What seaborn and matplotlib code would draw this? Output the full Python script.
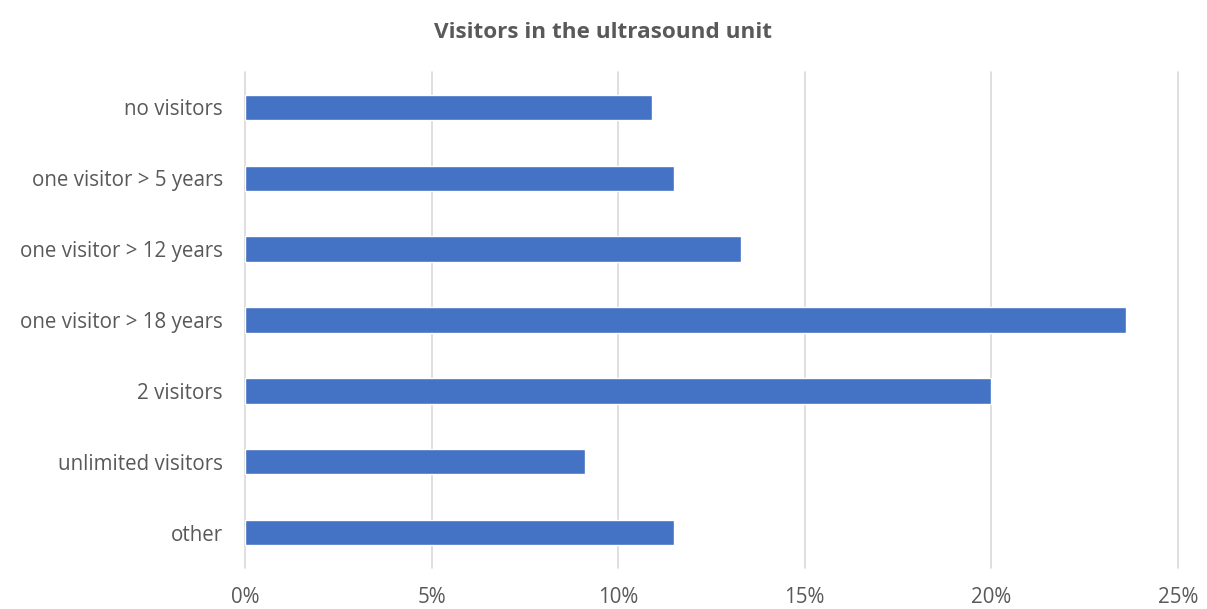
import matplotlib
matplotlib.use("Agg")
import matplotlib.pyplot as plt
import seaborn as sns
import pandas as pd
from matplotlib.ticker import PercentFormatter, MultipleLocator

categories = ["no visitors", "one visitor > 5 years", "one visitor > 12 years",
              "one visitor > 18 years", "2 visitors", "unlimited visitors", "other"]
values = [10.9, 11.5, 13.3, 23.6, 20.0, 9.1, 11.5]

df = pd.DataFrame({"category": categories, "value": values})

sns.set_theme(style="white")
plt.rcParams['font.family'] = ['Open Sans', 'DejaVu Sans']

fig = plt.figure(figsize=(12.07, 6.09), dpi=100)
ax = fig.add_axes([245/1207, 1 - 568/609, (1178 - 245)/1207, (568 - 72)/609])

sns.barplot(data=df, x="value", y="category", color="#4472C4", width=0.36,
            saturation=1, ax=ax, orient="h")

ax.set_xlim(0, 25)
ax.set_ylim(6.5, -0.5)
ax.xaxis.set_major_locator(MultipleLocator(5))
ax.xaxis.set_major_formatter(PercentFormatter(decimals=0))
ax.grid(axis="x", color="#D9D9D9", linewidth=1.2)
for gl in ax.get_xgridlines():
    gl.set_clip_on(False)
ax.set_axisbelow(True)
for s in ax.spines.values():
    s.set_visible(False)
ax.set_xlabel("")
ax.set_ylabel("")
ax.tick_params(axis="both", length=0, labelsize=14.8, colors="#595959")
ax.tick_params(axis="x", pad=14)
ax.tick_params(axis="y", pad=16)
fig.text(0.5, 1 - 33/609, "Visitors in the ultrasound unit", ha="center", va="center",
         fontsize=16.2, fontweight="bold", color="#595959")

fig.savefig("out.png", dpi=100)
